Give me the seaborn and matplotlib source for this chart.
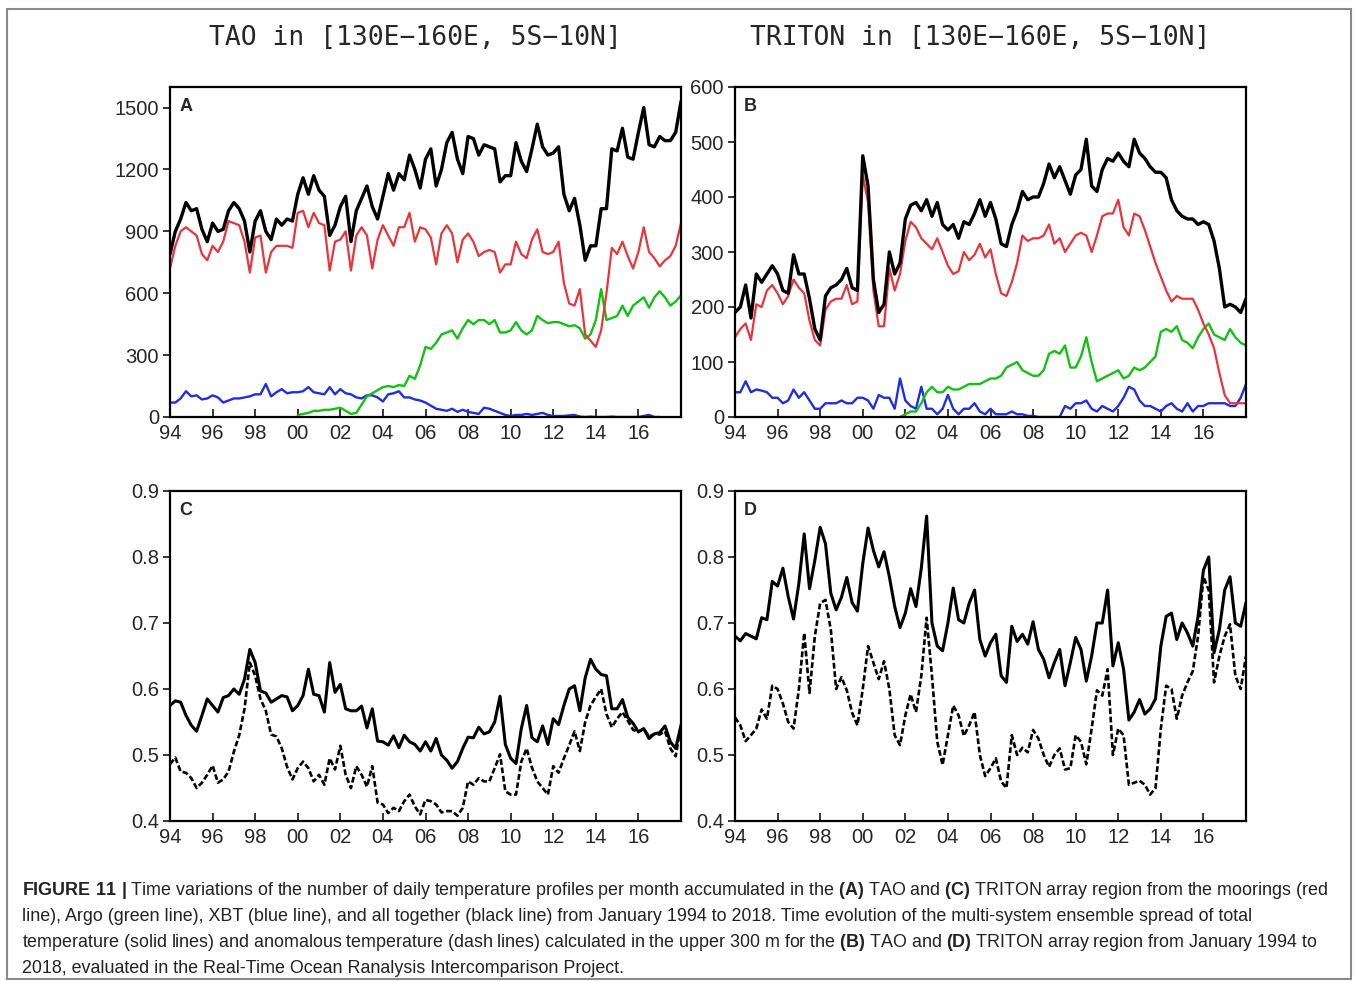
import numpy as np
import pandas as pd
import matplotlib
matplotlib.use("Agg")
import matplotlib.pyplot as plt
import seaborn as sns

# quarterly samples, Jan 1994 .. Jan 2018
years = np.arange(1994, 2018.01, 0.25)

# Panel A : TAO profile counts
tao_all = [790, 900, 960, 1040, 1000, 1010, 910, 850, 940, 900, 910, 1000,
           1040, 1010, 950, 800, 950, 1000, 900, 860, 960, 930, 960, 950,
           1080, 1160, 1080, 1170, 1100, 1070, 880, 930, 1020, 1070, 850, 1000,
           1060, 1120, 1020, 960, 1070, 1180, 1100, 1180, 1150, 1270, 1200, 1110,
           1250, 1300, 1120, 1200, 1330, 1380, 1250, 1180, 1360, 1350, 1270, 1320,
           1310, 1300, 1140, 1170, 1170, 1330, 1240, 1190, 1300, 1420, 1310, 1270,
           1280, 1310, 1080, 1000, 1060, 930, 760, 830, 830, 1010, 1010, 1300,
           1290, 1400, 1260, 1250, 1380, 1500, 1320, 1310, 1360, 1340, 1340, 1380,
           1530]
tao_moor = [720, 830, 900, 920, 900, 880, 790, 760, 830, 800, 850, 950,
            940, 930, 850, 700, 870, 880, 700, 800, 830, 830, 830, 820,
            990, 1000, 920, 990, 940, 930, 710, 850, 860, 900, 710, 880,
            920, 880, 720, 860, 930, 880, 830, 920, 920, 990, 850, 920,
            910, 870, 740, 890, 930, 890, 750, 860, 890, 850, 780, 800,
            810, 800, 700, 740, 740, 850, 790, 770, 860, 910, 800, 790,
            800, 850, 650, 550, 540, 620, 400, 370, 340, 420, 600, 820,
            790, 850, 780, 720, 800, 920, 800, 770, 730, 760, 780, 830,
            940]
tao_argo = [np.nan] * 24 + [
            10, 15, 20, 30, 30, 35, 35, 40, 45, 30, 15, 20,
            60, 100, 115, 130, 145, 150, 145, 155, 150, 200, 185, 250,
            340, 330, 360, 400, 410, 420, 380, 430, 470, 450, 470, 470,
            450, 470, 410, 410, 420, 460, 420, 400, 420, 490, 470, 455,
            460, 460, 450, 440, 445, 430, 380, 400, 470, 620, 470, 480,
            490, 540, 490, 540, 560, 580, 530, 580, 610, 580, 540, 560,
            590]
tao_xbt = [70, 70, 90, 125, 100, 105, 85, 90, 105, 95, 70, 80,
           90, 90, 95, 100, 110, 110, 160, 100, 120, 135, 115, 120,
           120, 125, 145, 120, 115, 110, 145, 110, 135, 115, 110, 95,
           90, 105, 105, 95, 75, 110, 115, 125, 95, 95, 85, 80,
           70, 55, 40, 35, 30, 40, 25, 35, 25, 20, 15, 45,
           40, 30, 20, 10, 5, 10, 10, 15, 10, 15, 20, 10,
           5, 5, 5, 8, 10, 2, 0, 2, 0, 0, 0, 2,
           0, 0, 0, 0, 0, 5, 10, 0, 0, np.nan, np.nan, np.nan,
           np.nan]

# Panel B : TRITON profile counts
tri_all = [190, 200, 240, 180, 260, 245, 260, 275, 260, 230, 225, 295,
           260, 260, 215, 160, 140, 220, 235, 240, 250, 270, 235, 230,
           475, 420, 250, 190, 205, 300, 260, 280, 360, 385, 390, 375,
           395, 365, 390, 350, 340, 350, 325, 355, 350, 370, 395, 365,
           390, 360, 315, 310, 350, 375, 410, 395, 400, 400, 425, 460,
           435, 455, 430, 405, 440, 450, 505, 420, 410, 450, 470, 465,
           480, 465, 455, 505, 480, 470, 455, 445, 445, 435, 395, 375,
           365, 360, 360, 350, 355, 350, 320, 270, 200, 205, 200, 190,
           215]
tri_moor = [145, 160, 170, 140, 205, 200, 230, 240, 225, 205, 220, 250,
            235, 225, 175, 140, 130, 195, 210, 215, 215, 240, 205, 210,
            440, 390, 230, 165, 165, 270, 230, 260, 320, 355, 345, 325,
            315, 305, 325, 300, 275, 260, 265, 300, 285, 295, 315, 290,
            305, 260, 225, 220, 245, 280, 330, 320, 325, 325, 330, 350,
            315, 325, 300, 315, 330, 335, 330, 300, 330, 365, 370, 370,
            395, 345, 330, 370, 365, 340, 310, 280, 255, 230, 210, 220,
            215, 215, 215, 195, 170, 150, 125, 80, 40, 25, 25, 25,
            25]
tri_argo = [np.nan] * 31 + [
            0, 5, 10, 10, 25,
            45, 55, 45, 45, 55, 50, 50, 55, 60, 60, 60, 65,
            70, 70, 75, 90, 95, 100, 85, 80, 75, 75, 85, 115,
            120, 115, 130, 90, 90, 110, 145, 100, 65, 70, 75, 80,
            85, 70, 75, 90, 85, 90, 100, 110, 155, 160, 155, 165,
            140, 135, 125, 145, 160, 170, 150, 145, 140, 160, 145, 135,
            130]
tri_xbt = [45, 45, 65, 45, 50, 48, 45, 35, 35, 25, 30, 50,
           35, 45, 30, 15, 15, 25, 25, 25, 30, 25, 25, 35,
           35, 30, 15, 40, 35, 35, 15, 70, 30, 20, 15, 55,
           15, 15, 5, 15, 40, 15, 5, 15, 15, 25, 10, 5,
           15, 5, 5, 5, 10, 5, 5, 2, 2, 0, 0, 0,
           0, 0, 20, 15, 25, 25, 30, 15, 10, 20, 15, 10,
           20, 35, 55, 50, 30, 20, 20, 15, 10, 20, 25, 15,
           10, 25, 10, 20, 20, 25, 25, 25, 25, 20, 20, 35,
           60]

# Panel C : TAO ensemble spread
tao_total = [0.575, 0.582, 0.580, 0.560, 0.545, 0.536, 0.560, 0.585, 0.575, 0.565, 0.587, 0.590,
             0.600, 0.592, 0.615, 0.660, 0.640, 0.597, 0.594, 0.580, 0.585, 0.590, 0.588, 0.567,
             0.575, 0.590, 0.630, 0.592, 0.590, 0.565, 0.640, 0.595, 0.607, 0.570, 0.567, 0.567,
             0.574, 0.541, 0.570, 0.521, 0.520, 0.515, 0.529, 0.511, 0.530, 0.520, 0.516, 0.506,
             0.520, 0.506, 0.525, 0.500, 0.492, 0.480, 0.490, 0.510, 0.527, 0.526, 0.542, 0.532,
             0.535, 0.550, 0.589, 0.516, 0.495, 0.487, 0.540, 0.575, 0.526, 0.520, 0.544, 0.516,
             0.555, 0.546, 0.575, 0.600, 0.605, 0.567, 0.617, 0.645, 0.630, 0.622, 0.620, 0.570,
             0.570, 0.584, 0.557, 0.548, 0.535, 0.540, 0.525, 0.532, 0.534, 0.544, 0.520, 0.510,
             0.545]
tao_anom = [0.486, 0.496, 0.475, 0.473, 0.465, 0.450, 0.458, 0.470, 0.484, 0.458, 0.463, 0.475,
            0.505, 0.530, 0.570, 0.640, 0.620, 0.585, 0.567, 0.531, 0.528, 0.510, 0.482, 0.463,
            0.480, 0.490, 0.480, 0.460, 0.470, 0.455, 0.495, 0.478, 0.514, 0.470, 0.450, 0.483,
            0.470, 0.452, 0.483, 0.428, 0.425, 0.412, 0.420, 0.415, 0.430, 0.440, 0.422, 0.410,
            0.432, 0.430, 0.425, 0.413, 0.415, 0.415, 0.408, 0.420, 0.460, 0.455, 0.465, 0.460,
            0.460, 0.480, 0.501, 0.445, 0.440, 0.440, 0.490, 0.510, 0.481, 0.460, 0.450, 0.440,
            0.483, 0.473, 0.495, 0.515, 0.536, 0.506, 0.550, 0.575, 0.588, 0.600, 0.562, 0.542,
            0.555, 0.565, 0.552, 0.538, 0.535, 0.540, 0.528, 0.532, 0.531, 0.536, 0.510, 0.498,
            0.546]

# Panel D : TRITON ensemble spread
tri_total = [0.680, 0.673, 0.684, 0.680, 0.676, 0.708, 0.705, 0.763, 0.756, 0.783, 0.740, 0.706,
             0.760, 0.835, 0.752, 0.795, 0.845, 0.820, 0.745, 0.720, 0.739, 0.769, 0.731, 0.718,
             0.790, 0.844, 0.810, 0.785, 0.808, 0.770, 0.725, 0.693, 0.715, 0.752, 0.725, 0.783,
             0.862, 0.700, 0.665, 0.658, 0.700, 0.753, 0.705, 0.700, 0.730, 0.750, 0.675, 0.650,
             0.670, 0.683, 0.620, 0.610, 0.695, 0.672, 0.683, 0.668, 0.702, 0.660, 0.645, 0.617,
             0.640, 0.660, 0.605, 0.640, 0.678, 0.660, 0.612, 0.650, 0.700, 0.700, 0.750, 0.635,
             0.670, 0.630, 0.553, 0.565, 0.584, 0.562, 0.570, 0.585, 0.665, 0.710, 0.715, 0.675,
             0.700, 0.685, 0.665, 0.710, 0.780, 0.800, 0.655, 0.690, 0.750, 0.770, 0.700, 0.695,
             0.731]
tri_anom = [0.557, 0.545, 0.521, 0.530, 0.540, 0.569, 0.555, 0.605, 0.600, 0.578, 0.550, 0.540,
            0.600, 0.685, 0.594, 0.680, 0.730, 0.735, 0.690, 0.600, 0.618, 0.598, 0.564, 0.545,
            0.600, 0.665, 0.640, 0.615, 0.642, 0.600, 0.530, 0.515, 0.560, 0.592, 0.565, 0.620,
            0.708, 0.620, 0.520, 0.485, 0.530, 0.575, 0.560, 0.529, 0.545, 0.565, 0.500, 0.468,
            0.480, 0.495, 0.460, 0.450, 0.530, 0.500, 0.511, 0.504, 0.538, 0.525, 0.500, 0.482,
            0.500, 0.510, 0.478, 0.480, 0.530, 0.520, 0.486, 0.540, 0.598, 0.590, 0.630, 0.500,
            0.540, 0.530, 0.455, 0.458, 0.461, 0.455, 0.440, 0.450, 0.540, 0.605, 0.600, 0.555,
            0.590, 0.610, 0.627, 0.680, 0.770, 0.750, 0.610, 0.650, 0.680, 0.698, 0.620, 0.600,
            0.650]

xticks = list(range(1994, 2017, 2))
xticklabels = ["%02d" % (y % 100) for y in xticks]

caption = [
    r"$\mathbf{FIGURE\ 11\ |}$ Time variations of the number of daily temperature profiles per month accumulated in the $\mathbf{(A)}$ TAO and $\mathbf{(C)}$ TRITON array region from the moorings (red",
    "line), Argo (green line), XBT (blue line), and all together (black line) from January 1994 to 2018. Time evolution of the multi-system ensemble spread of total",
    r"temperature (solid lines) and anomalous temperature (dash lines) calculated in the upper 300 m for the $\mathbf{(B)}$ TAO and $\mathbf{(D)}$ TRITON array region from January 1994 to",
    "2018, evaluated in the Real-Time Ocean Ranalysis Intercomparison Project.",
]

sns.set_style("white")
plt.rcParams["font.family"] = ["Liberation Sans", "DejaVu Sans"]
plt.rcParams["mathtext.fontset"] = "custom"
plt.rcParams["mathtext.rm"] = "Liberation Sans"
plt.rcParams["mathtext.bf"] = "Liberation Sans:bold"

RED, GREEN, BLUE = "#e8353b", "#14c014", "#1f2fe0"

fig = plt.figure(figsize=(13.58, 9.81), dpi=100)
W, H = 1358, 981


def make_ax(x0, x1, y0, y1):
    return fig.add_axes([x0 / W, 1 - y1 / H, (x1 - x0) / W, (y1 - y0) / H])


axA = make_ax(170, 681, 87, 417)
axB = make_ax(735, 1246, 87, 417)
axC = make_ax(170, 681, 491, 821)
axD = make_ax(735, 1246, 491, 821)

for ax, al, mo, ar, xb in [(axA, tao_all, tao_moor, tao_argo, tao_xbt),
                           (axB, tri_all, tri_moor, tri_argo, tri_xbt)]:
    sns.lineplot(x=years, y=xb, ax=ax, color=BLUE, lw=1.7, estimator=None)
    sns.lineplot(x=years, y=ar, ax=ax, color=GREEN, lw=1.7, estimator=None)
    sns.lineplot(x=years, y=mo, ax=ax, color=RED, lw=1.6, estimator=None)
    sns.lineplot(x=years, y=al, ax=ax, color="black", lw=2.4, estimator=None)

for ax, tot, ano in [(axC, tao_total, tao_anom), (axD, tri_total, tri_anom)]:
    sns.lineplot(x=years, y=ano, ax=ax, color="black", lw=1.9,
                 linestyle=(0, (2.2, 1.0)), estimator=None)
    sns.lineplot(x=years, y=tot, ax=ax, color="black", lw=2.2, estimator=None)

axA.set_ylim(0, 1600)
axA.set_yticks(range(0, 1501, 300))
axB.set_ylim(0, 600)
axB.set_yticks(range(0, 601, 100))
for ax in (axC, axD):
    ax.set_ylim(0.4, 0.9)
    ax.set_yticks([0.4, 0.5, 0.6, 0.7, 0.8, 0.9])
    ax.set_yticklabels(["0.4", "0.5", "0.6", "0.7", "0.8", "0.9"])

for ax, letter in zip((axA, axB, axC, axD), "ABCD"):
    ax.set_xlim(1994, 2018)
    ax.set_xticks(xticks)
    ax.set_xticklabels(xticklabels)
    ax.set_xlabel("")
    ax.set_ylabel("")
    for s in ax.spines.values():
        s.set_visible(True)
        s.set_linewidth(1.6)
        s.set_color("black")
    ax.tick_params(axis="x", direction="in", length=6, width=1.3, pad=5,
                   labelsize=14.5, bottom=True, top=False)
    ax.tick_params(axis="y", direction="out", length=5, width=1.3, pad=3,
                   labelsize=14.5, left=True, right=False)
    ax.text(0.018, 0.968, letter, transform=ax.transAxes, ha="left", va="top",
            fontsize=13, fontweight="bold")

fig.text(415 / W, 1 - 38 / H, "TAO in [130E\u2212160E, 5S\u221210N]",
         ha="center", va="center", fontsize=19, family="DejaVu Sans Mono")
fig.text(980 / W, 1 - 38 / H, "TRITON in [130E\u2212160E, 5S\u221210N]",
         ha="center", va="center", fontsize=19, family="DejaVu Sans Mono")

for i, line in enumerate(caption):
    fig.text(22 / W, 1 - (895 + 26 * i) / H, line, ha="left", va="baseline",
             fontsize=12.9, color="#222222")

fig.add_artist(plt.Rectangle((7 / W, 1 - 979 / H), 1344 / W, 970 / H,
                             transform=fig.transFigure, fill=False,
                             edgecolor="#8a8a8a", lw=1.5))

fig.savefig("out.png", dpi=100)
